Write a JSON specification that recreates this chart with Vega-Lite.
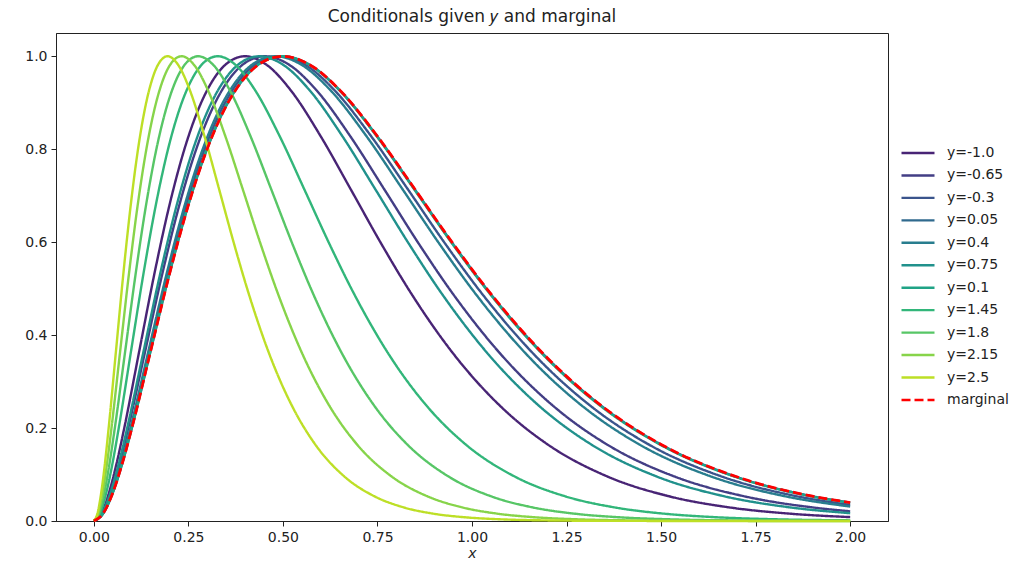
{
"$schema": "https://vega.github.io/schema/vega-lite/v6.json",
"width": 832, "height": 488,
"autosize": {"type": "none"},
"padding": {"left": 56, "top": 33, "right": 134, "bottom": 44},
"background": "white",
"title": {"text": "Conditionals given 𝑦 and marginal", "fontSize": 17, "font": "DejaVu Sans", "fontWeight": "normal", "color": "#222", "offset": 7, "anchor": "middle"},
"data": {"values": [
{"s":"y=-1.0","x":0,"f":0},{"s":"y=-1.0","x":0.02,"f":0.0167},{"s":"y=-1.0","x":0.04,"f":0.0605},{"s":"y=-1.0","x":0.06,"f":0.1232},{"s":"y=-1.0","x":0.08,"f":0.1981},{"s":"y=-1.0","x":0.12,"f":0.365},{"s":"y=-1.0","x":0.16,"f":0.5312},{"s":"y=-1.0","x":0.2,"f":0.6796},{"s":"y=-1.0","x":0.24,"f":0.8012},{"s":"y=-1.0","x":0.28,"f":0.8928},{"s":"y=-1.0","x":0.32,"f":0.9548},{"s":"y=-1.0","x":0.36,"f":0.9893},{"s":"y=-1.0","x":0.4,"f":1},{"s":"y=-1.0","x":0.46,"f":0.9797},{"s":"y=-1.0","x":0.52,"f":0.9275},{"s":"y=-1.0","x":0.6,"f":0.8277},{"s":"y=-1.0","x":0.68,"f":0.7127},{"s":"y=-1.0","x":0.76,"f":0.5967},{"s":"y=-1.0","x":0.84,"f":0.4886},{"s":"y=-1.0","x":0.96,"f":0.3503},{"s":"y=-1.0","x":1.08,"f":0.2433},{"s":"y=-1.0","x":1.2,"f":0.1648},{"s":"y=-1.0","x":1.36,"f":0.0951},{"s":"y=-1.0","x":1.52,"f":0.0534},{"s":"y=-1.0","x":1.68,"f":0.0293},{"s":"y=-1.0","x":1.84,"f":0.0158},{"s":"y=-1.0","x":2.0,"f":0.0084},
{"s":"y=-0.65","x":0,"f":0},{"s":"y=-0.65","x":0.0226,"f":0.0167},{"s":"y=-0.65","x":0.0452,"f":0.0605},{"s":"y=-0.65","x":0.0678,"f":0.1232},{"s":"y=-0.65","x":0.0904,"f":0.1981},{"s":"y=-0.65","x":0.1357,"f":0.365},{"s":"y=-0.65","x":0.1809,"f":0.5312},{"s":"y=-0.65","x":0.2261,"f":0.6796},{"s":"y=-0.65","x":0.2713,"f":0.8012},{"s":"y=-0.65","x":0.3166,"f":0.8928},{"s":"y=-0.65","x":0.3618,"f":0.9548},{"s":"y=-0.65","x":0.407,"f":0.9893},{"s":"y=-0.65","x":0.4522,"f":1},{"s":"y=-0.65","x":0.5201,"f":0.9797},{"s":"y=-0.65","x":0.5879,"f":0.9275},{"s":"y=-0.65","x":0.6783,"f":0.8277},{"s":"y=-0.65","x":0.7688,"f":0.7127},{"s":"y=-0.65","x":0.8592,"f":0.5967},{"s":"y=-0.65","x":0.9497,"f":0.4886},{"s":"y=-0.65","x":1.0854,"f":0.3503},{"s":"y=-0.65","x":1.221,"f":0.2433},{"s":"y=-0.65","x":1.3567,"f":0.1648},{"s":"y=-0.65","x":1.5376,"f":0.0951},{"s":"y=-0.65","x":1.7185,"f":0.0534},{"s":"y=-0.65","x":1.8994,"f":0.0293},{"s":"y=-0.65","x":2.0,"f":0.0208},
{"s":"y=-0.3","x":0,"f":0},{"s":"y=-0.3","x":0.0245,"f":0.0167},{"s":"y=-0.3","x":0.0489,"f":0.0605},{"s":"y=-0.3","x":0.0734,"f":0.1232},{"s":"y=-0.3","x":0.0978,"f":0.1981},{"s":"y=-0.3","x":0.1467,"f":0.365},{"s":"y=-0.3","x":0.1956,"f":0.5312},{"s":"y=-0.3","x":0.2445,"f":0.6796},{"s":"y=-0.3","x":0.2934,"f":0.8012},{"s":"y=-0.3","x":0.3423,"f":0.8928},{"s":"y=-0.3","x":0.3912,"f":0.9548},{"s":"y=-0.3","x":0.4401,"f":0.9893},{"s":"y=-0.3","x":0.489,"f":1},{"s":"y=-0.3","x":0.5624,"f":0.9797},{"s":"y=-0.3","x":0.6357,"f":0.9275},{"s":"y=-0.3","x":0.7335,"f":0.8277},{"s":"y=-0.3","x":0.8313,"f":0.7127},{"s":"y=-0.3","x":0.9291,"f":0.5967},{"s":"y=-0.3","x":1.0269,"f":0.4886},{"s":"y=-0.3","x":1.1736,"f":0.3503},{"s":"y=-0.3","x":1.3203,"f":0.2433},{"s":"y=-0.3","x":1.467,"f":0.1648},{"s":"y=-0.3","x":1.6626,"f":0.0951},{"s":"y=-0.3","x":1.8582,"f":0.0534},{"s":"y=-0.3","x":2.0,"f":0.0346},
{"s":"y=0.05","x":0,"f":0},{"s":"y=0.05","x":0.025,"f":0.0167},{"s":"y=0.05","x":0.05,"f":0.0605},{"s":"y=0.05","x":0.075,"f":0.1232},{"s":"y=0.05","x":0.0999,"f":0.1981},{"s":"y=0.05","x":0.1499,"f":0.365},{"s":"y=0.05","x":0.1999,"f":0.5312},{"s":"y=0.05","x":0.2498,"f":0.6796},{"s":"y=0.05","x":0.2998,"f":0.8012},{"s":"y=0.05","x":0.3498,"f":0.8928},{"s":"y=0.05","x":0.3998,"f":0.9548},{"s":"y=0.05","x":0.4497,"f":0.9893},{"s":"y=0.05","x":0.4997,"f":1},{"s":"y=0.05","x":0.5746,"f":0.9797},{"s":"y=0.05","x":0.6496,"f":0.9275},{"s":"y=0.05","x":0.7495,"f":0.8277},{"s":"y=0.05","x":0.8495,"f":0.7127},{"s":"y=0.05","x":0.9494,"f":0.5967},{"s":"y=0.05","x":1.0493,"f":0.4886},{"s":"y=0.05","x":1.1993,"f":0.3503},{"s":"y=0.05","x":1.3492,"f":0.2433},{"s":"y=0.05","x":1.4991,"f":0.1648},{"s":"y=0.05","x":1.6989,"f":0.0951},{"s":"y=0.05","x":1.8988,"f":0.0534},{"s":"y=0.05","x":2.0,"f":0.0396},
{"s":"y=0.4","x":0,"f":0},{"s":"y=0.4","x":0.024,"f":0.0167},{"s":"y=0.4","x":0.0481,"f":0.0605},{"s":"y=0.4","x":0.0721,"f":0.1232},{"s":"y=0.4","x":0.0962,"f":0.1981},{"s":"y=0.4","x":0.1442,"f":0.365},{"s":"y=0.4","x":0.1923,"f":0.5312},{"s":"y=0.4","x":0.2404,"f":0.6796},{"s":"y=0.4","x":0.2885,"f":0.8012},{"s":"y=0.4","x":0.3365,"f":0.8928},{"s":"y=0.4","x":0.3846,"f":0.9548},{"s":"y=0.4","x":0.4327,"f":0.9893},{"s":"y=0.4","x":0.4808,"f":1},{"s":"y=0.4","x":0.5529,"f":0.9797},{"s":"y=0.4","x":0.625,"f":0.9275},{"s":"y=0.4","x":0.7212,"f":0.8277},{"s":"y=0.4","x":0.8173,"f":0.7127},{"s":"y=0.4","x":0.9135,"f":0.5967},{"s":"y=0.4","x":1.0096,"f":0.4886},{"s":"y=0.4","x":1.1538,"f":0.3503},{"s":"y=0.4","x":1.2981,"f":0.2433},{"s":"y=0.4","x":1.4423,"f":0.1648},{"s":"y=0.4","x":1.6346,"f":0.0951},{"s":"y=0.4","x":1.8269,"f":0.0534},{"s":"y=0.4","x":2.0,"f":0.0311},
{"s":"y=0.75","x":0,"f":0},{"s":"y=0.75","x":0.0219,"f":0.0167},{"s":"y=0.75","x":0.0438,"f":0.0605},{"s":"y=0.75","x":0.0658,"f":0.1232},{"s":"y=0.75","x":0.0877,"f":0.1981},{"s":"y=0.75","x":0.1315,"f":0.365},{"s":"y=0.75","x":0.1753,"f":0.5312},{"s":"y=0.75","x":0.2192,"f":0.6796},{"s":"y=0.75","x":0.263,"f":0.8012},{"s":"y=0.75","x":0.3069,"f":0.8928},{"s":"y=0.75","x":0.3507,"f":0.9548},{"s":"y=0.75","x":0.3945,"f":0.9893},{"s":"y=0.75","x":0.4384,"f":1},{"s":"y=0.75","x":0.5041,"f":0.9797},{"s":"y=0.75","x":0.5699,"f":0.9275},{"s":"y=0.75","x":0.6575,"f":0.8277},{"s":"y=0.75","x":0.7452,"f":0.7127},{"s":"y=0.75","x":0.8329,"f":0.5967},{"s":"y=0.75","x":0.9206,"f":0.4886},{"s":"y=0.75","x":1.0521,"f":0.3503},{"s":"y=0.75","x":1.1836,"f":0.2433},{"s":"y=0.75","x":1.3151,"f":0.1648},{"s":"y=0.75","x":1.4904,"f":0.0951},{"s":"y=0.75","x":1.6658,"f":0.0534},{"s":"y=0.75","x":1.8411,"f":0.0293},{"s":"y=0.75","x":2.0,"f":0.0168},
{"s":"y=0.1","x":0,"f":0},{"s":"y=0.1","x":0.0249,"f":0.0167},{"s":"y=0.1","x":0.0499,"f":0.0605},{"s":"y=0.1","x":0.0748,"f":0.1232},{"s":"y=0.1","x":0.0998,"f":0.1981},{"s":"y=0.1","x":0.1496,"f":0.365},{"s":"y=0.1","x":0.1995,"f":0.5312},{"s":"y=0.1","x":0.2494,"f":0.6796},{"s":"y=0.1","x":0.2993,"f":0.8012},{"s":"y=0.1","x":0.3491,"f":0.8928},{"s":"y=0.1","x":0.399,"f":0.9548},{"s":"y=0.1","x":0.4489,"f":0.9893},{"s":"y=0.1","x":0.4988,"f":1},{"s":"y=0.1","x":0.5736,"f":0.9797},{"s":"y=0.1","x":0.6484,"f":0.9275},{"s":"y=0.1","x":0.7481,"f":0.8277},{"s":"y=0.1","x":0.8479,"f":0.7127},{"s":"y=0.1","x":0.9476,"f":0.5967},{"s":"y=0.1","x":1.0474,"f":0.4886},{"s":"y=0.1","x":1.197,"f":0.3503},{"s":"y=0.1","x":1.3466,"f":0.2433},{"s":"y=0.1","x":1.4963,"f":0.1648},{"s":"y=0.1","x":1.6958,"f":0.0951},{"s":"y=0.1","x":1.8953,"f":0.0534},{"s":"y=0.1","x":2.0,"f":0.0391},
{"s":"y=1.45","x":0,"f":0},{"s":"y=1.45","x":0.0164,"f":0.0167},{"s":"y=1.45","x":0.0328,"f":0.0605},{"s":"y=1.45","x":0.0492,"f":0.1232},{"s":"y=1.45","x":0.0655,"f":0.1981},{"s":"y=1.45","x":0.0983,"f":0.365},{"s":"y=1.45","x":0.1311,"f":0.5312},{"s":"y=1.45","x":0.1639,"f":0.6796},{"s":"y=1.45","x":0.1966,"f":0.8012},{"s":"y=1.45","x":0.2294,"f":0.8928},{"s":"y=1.45","x":0.2622,"f":0.9548},{"s":"y=1.45","x":0.295,"f":0.9893},{"s":"y=1.45","x":0.3277,"f":1},{"s":"y=1.45","x":0.3769,"f":0.9797},{"s":"y=1.45","x":0.426,"f":0.9275},{"s":"y=1.45","x":0.4916,"f":0.8277},{"s":"y=1.45","x":0.5571,"f":0.7127},{"s":"y=1.45","x":0.6227,"f":0.5967},{"s":"y=1.45","x":0.6882,"f":0.4886},{"s":"y=1.45","x":0.7866,"f":0.3503},{"s":"y=1.45","x":0.8849,"f":0.2433},{"s":"y=1.45","x":0.9832,"f":0.1648},{"s":"y=1.45","x":1.1143,"f":0.0951},{"s":"y=1.45","x":1.2454,"f":0.0534},{"s":"y=1.45","x":1.3765,"f":0.0293},{"s":"y=1.45","x":1.5076,"f":0.0158},{"s":"y=1.45","x":1.6387,"f":0.0084},{"s":"y=1.45","x":1.8025,"f":0.0037},{"s":"y=1.45","x":2.0,"f":0.0014},
{"s":"y=1.8","x":0,"f":0},{"s":"y=1.8","x":0.0138,"f":0.0167},{"s":"y=1.8","x":0.0276,"f":0.0605},{"s":"y=1.8","x":0.0414,"f":0.1232},{"s":"y=1.8","x":0.0552,"f":0.1981},{"s":"y=1.8","x":0.0829,"f":0.365},{"s":"y=1.8","x":0.1105,"f":0.5312},{"s":"y=1.8","x":0.1381,"f":0.6796},{"s":"y=1.8","x":0.1657,"f":0.8012},{"s":"y=1.8","x":0.1934,"f":0.8928},{"s":"y=1.8","x":0.221,"f":0.9548},{"s":"y=1.8","x":0.2486,"f":0.9893},{"s":"y=1.8","x":0.2762,"f":1},{"s":"y=1.8","x":0.3177,"f":0.9797},{"s":"y=1.8","x":0.3591,"f":0.9275},{"s":"y=1.8","x":0.4144,"f":0.8277},{"s":"y=1.8","x":0.4696,"f":0.7127},{"s":"y=1.8","x":0.5249,"f":0.5967},{"s":"y=1.8","x":0.5801,"f":0.4886},{"s":"y=1.8","x":0.663,"f":0.3503},{"s":"y=1.8","x":0.7458,"f":0.2433},{"s":"y=1.8","x":0.8287,"f":0.1648},{"s":"y=1.8","x":0.9392,"f":0.0951},{"s":"y=1.8","x":1.0497,"f":0.0534},{"s":"y=1.8","x":1.1602,"f":0.0293},{"s":"y=1.8","x":1.2707,"f":0.0158},{"s":"y=1.8","x":1.3812,"f":0.0084},{"s":"y=1.8","x":1.5193,"f":0.0037},{"s":"y=1.8","x":1.6574,"f":0.0016},{"s":"y=1.8","x":2.0,"f":0.0002},
{"s":"y=2.15","x":0,"f":0},{"s":"y=2.15","x":0.0116,"f":0.0167},{"s":"y=2.15","x":0.0232,"f":0.0605},{"s":"y=2.15","x":0.0348,"f":0.1232},{"s":"y=2.15","x":0.0464,"f":0.1981},{"s":"y=2.15","x":0.0696,"f":0.365},{"s":"y=2.15","x":0.0928,"f":0.5312},{"s":"y=2.15","x":0.116,"f":0.6796},{"s":"y=2.15","x":0.1392,"f":0.8012},{"s":"y=2.15","x":0.1624,"f":0.8928},{"s":"y=2.15","x":0.1856,"f":0.9548},{"s":"y=2.15","x":0.2088,"f":0.9893},{"s":"y=2.15","x":0.232,"f":1},{"s":"y=2.15","x":0.2667,"f":0.9797},{"s":"y=2.15","x":0.3015,"f":0.9275},{"s":"y=2.15","x":0.3479,"f":0.8277},{"s":"y=2.15","x":0.3943,"f":0.7127},{"s":"y=2.15","x":0.4407,"f":0.5967},{"s":"y=2.15","x":0.4871,"f":0.4886},{"s":"y=2.15","x":0.5567,"f":0.3503},{"s":"y=2.15","x":0.6263,"f":0.2433},{"s":"y=2.15","x":0.6959,"f":0.1648},{"s":"y=2.15","x":0.7886,"f":0.0951},{"s":"y=2.15","x":0.8814,"f":0.0534},{"s":"y=2.15","x":0.9742,"f":0.0293},{"s":"y=2.15","x":1.067,"f":0.0158},{"s":"y=2.15","x":1.1598,"f":0.0084},{"s":"y=2.15","x":1.2757,"f":0.0037},{"s":"y=2.15","x":1.3917,"f":0.0016},{"s":"y=2.15","x":1.6237,"f":0.0003},{"s":"y=2.15","x":2.0,"f":0},
{"s":"y=2.5","x":0,"f":0},{"s":"y=2.5","x":0.0098,"f":0.0167},{"s":"y=2.5","x":0.0195,"f":0.0605},{"s":"y=2.5","x":0.0293,"f":0.1232},{"s":"y=2.5","x":0.039,"f":0.1981},{"s":"y=2.5","x":0.0585,"f":0.365},{"s":"y=2.5","x":0.078,"f":0.5312},{"s":"y=2.5","x":0.0976,"f":0.6796},{"s":"y=2.5","x":0.1171,"f":0.8012},{"s":"y=2.5","x":0.1366,"f":0.8928},{"s":"y=2.5","x":0.1561,"f":0.9548},{"s":"y=2.5","x":0.1756,"f":0.9893},{"s":"y=2.5","x":0.1951,"f":1},{"s":"y=2.5","x":0.2244,"f":0.9797},{"s":"y=2.5","x":0.2537,"f":0.9275},{"s":"y=2.5","x":0.2927,"f":0.8277},{"s":"y=2.5","x":0.3317,"f":0.7127},{"s":"y=2.5","x":0.3707,"f":0.5967},{"s":"y=2.5","x":0.4098,"f":0.4886},{"s":"y=2.5","x":0.4683,"f":0.3503},{"s":"y=2.5","x":0.5268,"f":0.2433},{"s":"y=2.5","x":0.5854,"f":0.1648},{"s":"y=2.5","x":0.6634,"f":0.0951},{"s":"y=2.5","x":0.7415,"f":0.0534},{"s":"y=2.5","x":0.8195,"f":0.0293},{"s":"y=2.5","x":0.8976,"f":0.0158},{"s":"y=2.5","x":0.9756,"f":0.0084},{"s":"y=2.5","x":1.0732,"f":0.0037},{"s":"y=2.5","x":1.1707,"f":0.0016},{"s":"y=2.5","x":1.3658,"f":0.0003},{"s":"y=2.5","x":1.561,"f":0.0001},{"s":"y=2.5","x":2.0,"f":0},
{"s":"marginal","x":0,"f":0},{"s":"marginal","x":0.025,"f":0.0167},{"s":"marginal","x":0.05,"f":0.0605},{"s":"marginal","x":0.075,"f":0.1232},{"s":"marginal","x":0.1,"f":0.1981},{"s":"marginal","x":0.15,"f":0.365},{"s":"marginal","x":0.2,"f":0.5312},{"s":"marginal","x":0.25,"f":0.6796},{"s":"marginal","x":0.3,"f":0.8012},{"s":"marginal","x":0.35,"f":0.8928},{"s":"marginal","x":0.4,"f":0.9548},{"s":"marginal","x":0.45,"f":0.9893},{"s":"marginal","x":0.5,"f":1},{"s":"marginal","x":0.575,"f":0.9797},{"s":"marginal","x":0.65,"f":0.9275},{"s":"marginal","x":0.75,"f":0.8277},{"s":"marginal","x":0.85,"f":0.7127},{"s":"marginal","x":0.95,"f":0.5967},{"s":"marginal","x":1.05,"f":0.4886},{"s":"marginal","x":1.2,"f":0.3503},{"s":"marginal","x":1.35,"f":0.2433},{"s":"marginal","x":1.5,"f":0.1648},{"s":"marginal","x":1.7,"f":0.0951},{"s":"marginal","x":1.9,"f":0.0534},{"s":"marginal","x":2.0,"f":0.0397}
]},
"encoding": {
  "x": {"field": "x", "type": "quantitative", "scale": {"domain": [-0.1, 2.1], "nice": false, "zero": false}, "axis": {"values": [0, 0.25, 0.5, 0.75, 1, 1.25, 1.5, 1.75, 2], "format": ".2f", "title": "x", "titleFontStyle": "italic", "titlePadding": 2}},
  "y": {"field": "f", "type": "quantitative", "scale": {"domain": [0, 1.05], "nice": false, "zero": false}, "axis": {"values": [0, 0.2, 0.4, 0.6, 0.8, 1], "format": ".1f", "title": null}},
  "color": {"field": "s", "type": "nominal", "scale": {"domain": ["y=-1.0","y=-0.65","y=-0.3","y=0.05","y=0.4","y=0.75","y=0.1","y=1.45","y=1.8","y=2.15","y=2.5","marginal"], "range": ["#482475","#433e85","#3a548c","#306a8e","#287d8e","#21918c","#20a386","#32b67a","#57c666","#87d44a","#bddf26","#ff0000"]}, "legend": {"title": null}},
  "strokeDash": {"field": "s", "type": "nominal", "scale": {"domain": ["y=-1.0","y=-0.65","y=-0.3","y=0.05","y=0.4","y=0.75","y=0.1","y=1.45","y=1.8","y=2.15","y=2.5","marginal"], "range": [[1,0],[1,0],[1,0],[1,0],[1,0],[1,0],[1,0],[1,0],[1,0],[1,0],[1,0],[9,4]]}, "legend": {"title": null}}
},
"layer": [
  {"transform": [{"filter": "datum.s != 'marginal'"}], "mark": {"type": "line", "strokeWidth": 2.4, "interpolate": "monotone"}},
  {"transform": [{"filter": "datum.s == 'marginal'"}], "mark": {"type": "line", "strokeWidth": 2.8, "interpolate": "monotone"}}
],
"config": {
  "font": "DejaVu Sans",
  "view": {"stroke": "#222", "strokeWidth": 1},
  "axis": {"domainColor": "#222", "tickColor": "#222", "labelColor": "#222", "labelFont": "DejaVu Sans", "labelFontSize": 14, "tickSize": 5, "labelPadding": 4, "titleFont": "DejaVu Sans", "titleFontSize": 14, "titleColor": "#222", "titleFontWeight": "normal", "grid": false, "domainWidth": 1, "tickWidth": 1},
  "legend": {"orient": "none", "legendX": 844, "legendY": 110, "symbolType": "stroke", "symbolSize": 1089, "symbolStrokeWidth": 2.4, "labelFont": "DejaVu Sans", "labelFontSize": 14, "labelColor": "#222", "clipHeight": 20, "rowPadding": 2.45, "labelOffset": 11, "padding": 0}
}
}
